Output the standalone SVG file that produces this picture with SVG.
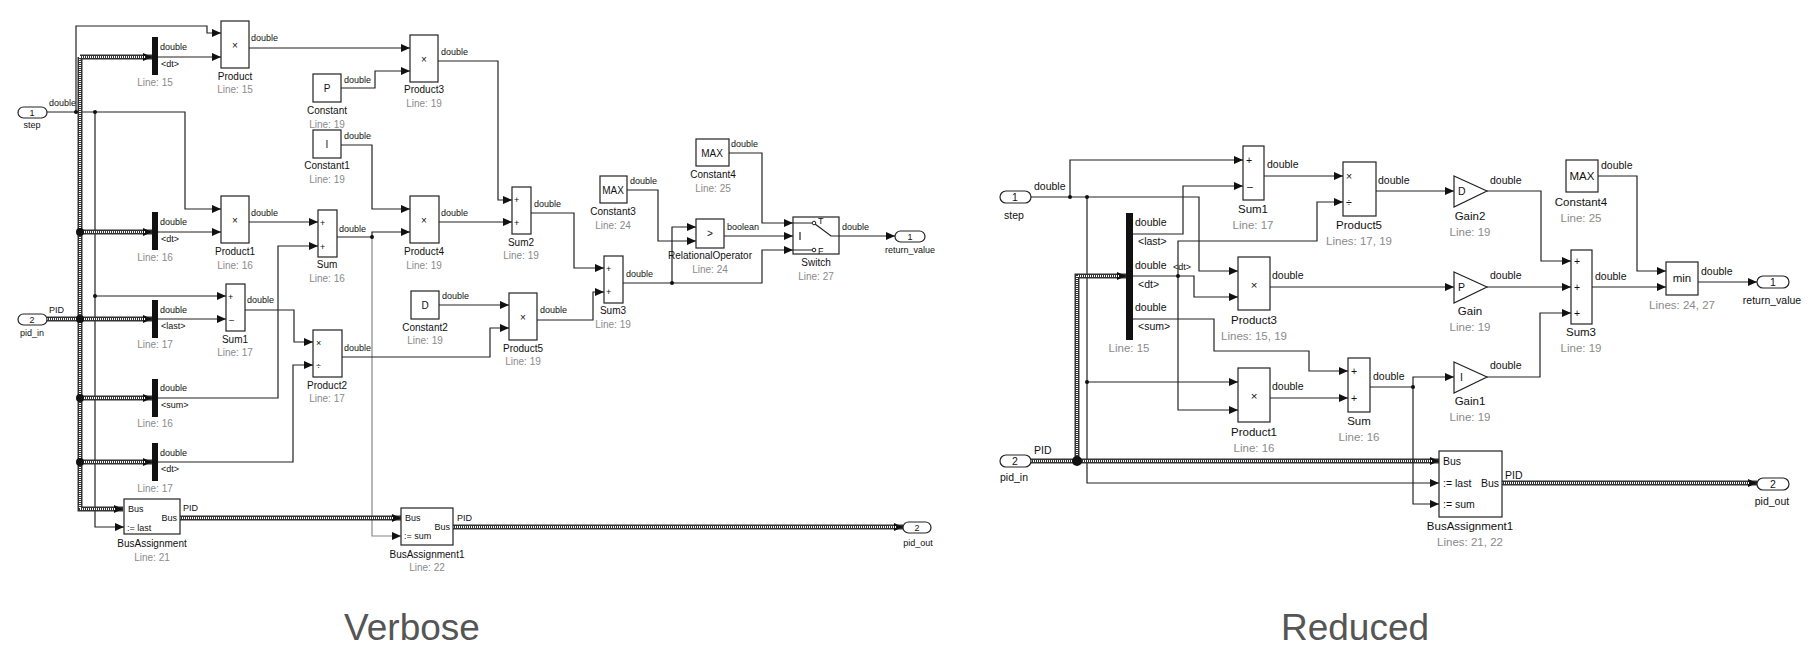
<svg xmlns="http://www.w3.org/2000/svg" width="1818" height="666" viewBox="0 0 1818 666">
<style>
text{font-family:"Liberation Sans",Arial,sans-serif;fill:#111}
.b{fill:#fff;stroke:#222;stroke-width:1.2}
.p{fill:#fff;stroke:#222;stroke-width:1.2}
.sel{fill:#111}
.n{font-size:10px;text-anchor:middle}
.l{font-size:10px;text-anchor:middle;fill:#8a8a8a}
.s{font-size:9px}
.s2{font-size:10.5px}
.n2{font-size:11.5px;text-anchor:middle}
.l2{font-size:11.5px;text-anchor:middle;fill:#8a8a8a}
.c{text-anchor:middle}
.w{fill:none;stroke:#222;stroke-width:1.2}
.g{fill:none;stroke:#888;stroke-width:1.2}
.bus{fill:none;stroke:#333;stroke-width:5}
.busi{fill:none;stroke:#fff;stroke-width:2;stroke-dasharray:1 1}
.t{font-size:37px;fill:#555;text-anchor:middle}
</style>
<defs>
<marker id="a" markerUnits="userSpaceOnUse" markerWidth="9" markerHeight="8" refX="9" refY="4" orient="auto"><path d="M0,0 L9,4 L0,8 Z" fill="#111"/></marker>
</defs>

<g id="connectors">
<!-- verbose -->
<path class="w" d="M47,112 H185 V209 H221" marker-end="url(#a)"/>
<path class="w" d="M76,112 V26 H207 V33 H221" marker-end="url(#a)"/>
<path class="w" d="M95,112 V527 H124" marker-end="url(#a)"/>
<path class="w" d="M95,296 H226" marker-end="url(#a)"/>
<path class="bus" d="M47,319 H80"/><path class="busi" d="M47,319 H80"/>
<path class="bus" d="M80,57 V509 H123" marker-end="url(#a)"/><path class="busi" d="M80,57 V509 H116"/>
<path class="bus" d="M80,57 H152" marker-end="url(#a)"/><path class="busi" d="M80,57 H145"/>
<path class="bus" d="M80,232 H152" marker-end="url(#a)"/><path class="busi" d="M80,232 H145"/>
<path class="bus" d="M80,319 H152" marker-end="url(#a)"/><path class="busi" d="M80,319 H145"/>
<path class="bus" d="M80,398 H152" marker-end="url(#a)"/><path class="busi" d="M80,398 H145"/>
<path class="bus" d="M80,462 H152" marker-end="url(#a)"/><path class="busi" d="M80,462 H145"/>
<path class="w" d="M158,57 H221" marker-end="url(#a)"/>
<path class="w" d="M158,232 H221" marker-end="url(#a)"/>
<path class="w" d="M158,319 H226" marker-end="url(#a)"/>
<path class="w" d="M158,398 H278 V246 H318" marker-end="url(#a)"/>
<path class="w" d="M158,462 H293 V365 H313" marker-end="url(#a)"/>
<path class="w" d="M249,48 H410" marker-end="url(#a)"/>
<path class="w" d="M341,88 H375 V71 H410" marker-end="url(#a)"/>
<path class="w" d="M341,145 H372 V209 H410" marker-end="url(#a)"/>
<path class="w" d="M249,222 H318" marker-end="url(#a)"/>
<path class="w" d="M337,237 H372 V232 H410" marker-end="url(#a)"/>
<path class="g" d="M372,237 V536 H401" marker-end="url(#a)"/>
<path class="w" d="M245,310 H294 V342 H313" marker-end="url(#a)"/>
<path class="w" d="M342,357 H490 V328 H509" marker-end="url(#a)"/>
<path class="w" d="M439,305 H509" marker-end="url(#a)"/>
<path class="w" d="M438,61 H498 V200 H512" marker-end="url(#a)"/>
<path class="w" d="M439,222 H512" marker-end="url(#a)"/>
<path class="w" d="M531,213 H574 V268 H604" marker-end="url(#a)"/>
<path class="w" d="M537,320 H593 V292 H604" marker-end="url(#a)"/>
<path class="w" d="M623,283 H762 V250 H793" marker-end="url(#a)"/>
<path class="w" d="M672,283 V227 H696" marker-end="url(#a)"/>
<path class="w" d="M627,190 H658 V241 H696" marker-end="url(#a)"/>
<path class="w" d="M724,236 H793" marker-end="url(#a)"/>
<path class="w" d="M729,153 H762 V223 H793" marker-end="url(#a)"/>
<path class="w" d="M839,236 H895" marker-end="url(#a)"/>
<path class="bus" d="M180,518 H401" marker-end="url(#a)"/><path class="busi" d="M180,518 H394"/>
<path class="bus" d="M453,527 H903" marker-end="url(#a)"/><path class="busi" d="M453,527 H896"/>
<g fill="#111"><circle cx="76" cy="112" r="2"/><circle cx="95" cy="112" r="2"/><circle cx="95" cy="296" r="2"/><circle cx="372" cy="237" r="2"/><circle cx="672" cy="283" r="2"/>
<circle cx="80" cy="232" r="4"/><circle cx="80" cy="319" r="4"/><circle cx="80" cy="398" r="4"/><circle cx="80" cy="462" r="4"/></g>

<!-- reduced -->
<path class="w" d="M1031,197 H1199 V271 H1238" marker-end="url(#a)"/>
<path class="w" d="M1070,197 V160 H1243" marker-end="url(#a)"/>
<path class="w" d="M1087,197 V483 H1439" marker-end="url(#a)"/>
<path class="w" d="M1087,382 H1238" marker-end="url(#a)"/>
<path class="bus" d="M1031,461 H1439" marker-end="url(#a)"/><path class="busi" d="M1031,461 H1432"/>
<path class="bus" d="M1077,461 V276 H1126" marker-end="url(#a)"/><path class="busi" d="M1077,461 V276 H1119"/>
<path class="w" d="M1132,234 H1183 V186 H1243" marker-end="url(#a)"/>
<path class="w" d="M1132,276 H1194 V297 H1238" marker-end="url(#a)"/>
<path class="w" d="M1178,276 V241 H1317 V202 H1343" marker-end="url(#a)"/>
<path class="w" d="M1178,276 V410 H1238" marker-end="url(#a)"/>
<path class="w" d="M1132,319 H1214 V351 H1309 V371 H1348" marker-end="url(#a)"/>
<path class="w" d="M1264,176 H1343" marker-end="url(#a)"/>
<path class="w" d="M1376,191 H1454" marker-end="url(#a)"/>
<path class="w" d="M1270,287 H1454" marker-end="url(#a)"/>
<path class="w" d="M1270,398 H1348" marker-end="url(#a)"/>
<path class="w" d="M1370,387 H1413 V377 H1454" marker-end="url(#a)"/>
<path class="w" d="M1413,387 V504 H1439" marker-end="url(#a)"/>
<path class="w" d="M1487,191 H1541 V261 H1571" marker-end="url(#a)"/>
<path class="w" d="M1487,287 H1571" marker-end="url(#a)"/>
<path class="w" d="M1487,377 H1540 V313 H1571" marker-end="url(#a)"/>
<path class="w" d="M1592,287 H1666" marker-end="url(#a)"/>
<path class="w" d="M1598,176 H1637 V271 H1666" marker-end="url(#a)"/>
<path class="w" d="M1698,282 H1757" marker-end="url(#a)"/>
<path class="bus" d="M1502,483 H1757" marker-end="url(#a)"/><path class="busi" d="M1502,483 H1750"/>
<g fill="#111"><circle cx="1070" cy="197" r="2"/><circle cx="1087" cy="197" r="2"/><circle cx="1087" cy="382" r="2"/><circle cx="1178" cy="276" r="2"/><circle cx="1413" cy="387" r="2"/><circle cx="1077" cy="461" r="5"/></g>
</g>

<!-- connector labels verbose -->
<g id="vlabels" class="s">
<text x="49" y="106">double</text><text x="49" y="313">PID</text>
<text x="160" y="50">double</text><text x="161" y="67">&lt;dt&gt;</text>
<text x="160" y="225">double</text><text x="161" y="242">&lt;dt&gt;</text>
<text x="160" y="313">double</text><text x="161" y="329">&lt;last&gt;</text>
<text x="160" y="391">double</text><text x="161" y="408">&lt;sum&gt;</text>
<text x="160" y="456">double</text><text x="161" y="472">&lt;dt&gt;</text>
<text x="251" y="41">double</text><text x="441" y="55">double</text><text x="344" y="83">double</text><text x="344" y="139">double</text>
<text x="251" y="216">double</text><text x="339" y="232">double</text><text x="247" y="303">double</text><text x="344" y="351">double</text>
<text x="441" y="216">double</text><text x="442" y="299">double</text><text x="540" y="313">double</text><text x="534" y="207">double</text>
<text x="626" y="277">double</text><text x="630" y="184">double</text><text x="727" y="230">boolean</text><text x="731" y="147">double</text>
<text x="842" y="230">double</text><text x="183" y="511">PID</text><text x="457" y="521">PID</text>
</g>
<g id="rlabels" class="s2">
<text x="1034" y="190">double</text><text x="1034" y="454">PID</text>
<text x="1135" y="226">double</text><text x="1138" y="245">&lt;last&gt;</text>
<text x="1135" y="269">double</text><text x="1138" y="288">&lt;dt&gt;</text><text x="1173" y="270" font-size="9">&lt;dt&gt;</text>
<text x="1135" y="311">double</text><text x="1138" y="330">&lt;sum&gt;</text>
<text x="1267" y="168">double</text><text x="1378" y="184">double</text><text x="1272" y="279">double</text><text x="1272" y="390">double</text>
<text x="1373" y="380">double</text><text x="1490" y="184">double</text><text x="1490" y="279">double</text><text x="1490" y="369">double</text>
<text x="1595" y="280">double</text><text x="1601" y="169">double</text><text x="1701" y="275">double</text><text x="1505" y="479">PID</text>
</g>

<!-- verbose nodes -->
<g id="v_step"><rect class="p" x="18" y="107" width="29" height="11" rx="5.5"/><text class="s c" x="32" y="116">1</text><text class="s c" x="32" y="128">step</text></g>
<g id="v_pid_in"><rect class="p" x="18" y="314" width="29" height="11" rx="5.5"/><text class="s c" x="32" y="323">2</text><text class="s c" x="32" y="336">pid_in</text></g>
<g id="v_sel1"><rect class="sel" x="152" y="37" width="6" height="38"/><text class="l" x="155" y="86" font-size="9">Line: 15</text></g>
<g id="v_sel2"><rect class="sel" x="152" y="212" width="6" height="38"/><text class="l" x="155" y="261" font-size="9">Line: 16</text></g>
<g id="v_sel3"><rect class="sel" x="152" y="300" width="6" height="38"/><text class="l" x="155" y="348" font-size="9">Line: 17</text></g>
<g id="v_sel4"><rect class="sel" x="152" y="379" width="6" height="38"/><text class="l" x="155" y="427" font-size="9">Line: 16</text></g>
<g id="v_sel5"><rect class="sel" x="152" y="443" width="6" height="38"/><text class="l" x="155" y="492" font-size="9">Line: 17</text></g>
<g id="v_product"><rect class="b" x="221" y="21" width="28" height="47"/><text class="n" x="235" y="49">×</text><text class="n" x="235" y="80" font-size="9">Product</text><text class="l" x="235" y="93" font-size="9">Line: 15</text></g>
<g id="v_product3"><rect class="b" x="410" y="35" width="28" height="47"/><text class="n" x="424" y="63">×</text><text class="n" x="424" y="93" font-size="9">Product3</text><text class="l" x="424" y="107" font-size="9">Line: 19</text></g>
<g id="v_constant"><rect class="b" x="313" y="74" width="28" height="28"/><text class="n" x="327" y="92">P</text><text class="n" x="327" y="114" font-size="9">Constant</text><text class="l" x="327" y="128" font-size="9">Line: 19</text></g>
<g id="v_constant1"><rect class="b" x="313" y="130" width="28" height="28"/><text class="n" x="327" y="148">I</text><text class="n" x="327" y="169" font-size="9">Constant1</text><text class="l" x="327" y="183" font-size="9">Line: 19</text></g>
<g id="v_product1"><rect class="b" x="221" y="196" width="28" height="47"/><text class="n" x="235" y="224">×</text><text class="n" x="235" y="255" font-size="9">Product1</text><text class="l" x="235" y="269" font-size="9">Line: 16</text></g>
<g id="v_sum"><rect class="b" x="318" y="210" width="19" height="47"/><text class="s" x="320" y="226">+</text><text class="s" x="320" y="250">+</text><text class="n" x="327" y="268" font-size="9">Sum</text><text class="l" x="327" y="282" font-size="9">Line: 16</text></g>
<g id="v_product4"><rect class="b" x="410" y="196" width="29" height="47"/><text class="n" x="424" y="224">×</text><text class="n" x="424" y="255" font-size="9">Product4</text><text class="l" x="424" y="269" font-size="9">Line: 19</text></g>
<g id="v_sum1"><rect class="b" x="226" y="284" width="19" height="47"/><text class="s" x="228" y="300">+</text><text class="s" x="229" y="323">–</text><text class="n" x="235" y="343" font-size="9">Sum1</text><text class="l" x="235" y="356" font-size="9">Line: 17</text></g>
<g id="v_product2"><rect class="b" x="313" y="330" width="29" height="47"/><text class="s" x="316" y="346">×</text><text class="s" x="316" y="369">÷</text><text class="n" x="327" y="389" font-size="9">Product2</text><text class="l" x="327" y="402" font-size="9">Line: 17</text></g>
<g id="v_constant2"><rect class="b" x="411" y="291" width="28" height="28"/><text class="n" x="425" y="309">D</text><text class="n" x="425" y="331" font-size="9">Constant2</text><text class="l" x="425" y="344" font-size="9">Line: 19</text></g>
<g id="v_product5"><rect class="b" x="509" y="293" width="28" height="47"/><text class="n" x="523" y="321">×</text><text class="n" x="523" y="352" font-size="9">Product5</text><text class="l" x="523" y="365" font-size="9">Line: 19</text></g>
<g id="v_sum2"><rect class="b" x="512" y="187" width="19" height="47"/><text class="s" x="514" y="203">+</text><text class="s" x="514" y="226">+</text><text class="n" x="521" y="246" font-size="9">Sum2</text><text class="l" x="521" y="259" font-size="9">Line: 19</text></g>
<g id="v_sum3"><rect class="b" x="604" y="256" width="19" height="47"/><text class="s" x="606" y="272">+</text><text class="s" x="606" y="295">+</text><text class="n" x="613" y="314" font-size="9">Sum3</text><text class="l" x="613" y="328" font-size="9">Line: 19</text></g>
<g id="v_constant3"><rect class="b" x="600" y="176" width="27" height="27"/><text class="n" x="613" y="194" font-size="9">MAX</text><text class="n" x="613" y="215" font-size="9">Constant3</text><text class="l" x="613" y="229" font-size="9">Line: 24</text></g>
<g id="v_relop"><rect class="b" x="696" y="219" width="28" height="29"/><text class="n" x="710" y="237" font-size="9">&gt;</text><text class="n" x="710" y="259" font-size="9">RelationalOperator</text><text class="l" x="710" y="273" font-size="9">Line: 24</text></g>
<g id="v_constant4"><rect class="b" x="696" y="139" width="33" height="27"/><text class="n" x="712" y="157" font-size="9">MAX</text><text class="n" x="713" y="178" font-size="9">Constant4</text><text class="l" x="713" y="192" font-size="9">Line: 25</text></g>
<g id="v_switch"><rect class="b" x="793" y="217" width="46" height="37"/>
<path class="w" d="M793,223 H812 M793,250 H812 M800,232 V240 M815,224 L831,236 H839"/><circle cx="814" cy="223" r="1.8" fill="#fff" stroke="#222"/><circle cx="814" cy="250" r="1.8" fill="#fff" stroke="#222"/>
<text class="s" x="818" y="224">T</text><text class="s" x="818" y="254">F</text>
<text class="n" x="816" y="266" font-size="9">Switch</text><text class="l" x="816" y="280" font-size="9">Line: 27</text></g>
<g id="v_return_value"><rect class="p" x="895" y="231" width="30" height="11" rx="5.5"/><text class="s c" x="910" y="240">1</text><text class="s c" x="910" y="253">return_value</text></g>
<g id="v_busassign"><rect class="b" x="124" y="499" width="56" height="35"/><text class="s" x="128" y="512">Bus</text><text class="s" x="177" y="521" text-anchor="end">Bus</text><text class="s" x="127" y="531">:= last</text><text class="n" x="152" y="547" font-size="9">BusAssignment</text><text class="l" x="152" y="561" font-size="9">Line: 21</text></g>
<g id="v_busassign1"><rect class="b" x="401" y="508" width="52" height="37"/><text class="s" x="405" y="521">Bus</text><text class="s" x="450" y="530" text-anchor="end">Bus</text><text class="s" x="404" y="539">:= sum</text><text class="n" x="427" y="558" font-size="9">BusAssignment1</text><text class="l" x="427" y="571" font-size="9">Line: 22</text></g>
<g id="v_pid_out"><rect class="p" x="903" y="522" width="28" height="11" rx="5.5"/><text class="s c" x="917" y="531">2</text><text class="s c" x="918" y="546">pid_out</text></g>

<!-- reduced nodes -->
<g id="r_step"><rect class="p" x="1000" y="191" width="31" height="12" rx="6"/><text class="s2 c" x="1015" y="201">1</text><text class="s2 c" x="1014" y="219">step</text></g>
<g id="r_pid_in"><rect class="p" x="1000" y="455" width="31" height="12" rx="6"/><text class="s2 c" x="1015" y="465">2</text><text class="s2 c" x="1014" y="481">pid_in</text></g>
<g id="r_selector"><rect class="sel" x="1126" y="213" width="7" height="127"/><text class="l2" x="1129" y="352">Line: 15</text></g>
<g id="r_sum1"><rect class="b" x="1243" y="146" width="21" height="54"/><text class="s2" x="1246" y="164">+</text><text class="s2" x="1247" y="190">–</text><text class="n2" x="1253" y="213">Sum1</text><text class="l2" x="1253" y="229">Line: 17</text></g>
<g id="r_product5"><rect class="b" x="1343" y="162" width="33" height="54"/><text class="s2" x="1346" y="180">×</text><text class="s2" x="1346" y="206">÷</text><text class="n2" x="1359" y="229">Product5</text><text class="l2" x="1359" y="245">Lines: 17, 19</text></g>
<g id="r_product3"><rect class="b" x="1238" y="257" width="32" height="53"/><text class="n2" x="1254" y="289">×</text><text class="n2" x="1254" y="324">Product3</text><text class="l2" x="1254" y="340">Lines: 15, 19</text></g>
<g id="r_product1"><rect class="b" x="1238" y="368" width="32" height="54"/><text class="n2" x="1254" y="400">×</text><text class="n2" x="1254" y="436">Product1</text><text class="l2" x="1254" y="452">Line: 16</text></g>
<g id="r_sum"><rect class="b" x="1348" y="358" width="22" height="54"/><text class="s2" x="1351" y="375">+</text><text class="s2" x="1351" y="402">+</text><text class="n2" x="1359" y="425">Sum</text><text class="l2" x="1359" y="441">Line: 16</text></g>
<g id="r_gain2"><path class="b" d="M1454,176 L1487,191 L1454,207 Z"/><text class="s2" x="1458" y="195">D</text><text class="n2" x="1470" y="220">Gain2</text><text class="l2" x="1470" y="236">Line: 19</text></g>
<g id="r_gain"><path class="b" d="M1454,272 L1487,287 L1454,303 Z"/><text class="s2" x="1458" y="291">P</text><text class="n2" x="1470" y="315">Gain</text><text class="l2" x="1470" y="331">Line: 19</text></g>
<g id="r_gain1"><path class="b" d="M1454,362 L1487,377 L1454,393 Z"/><text class="s2" x="1460" y="381">I</text><text class="n2" x="1470" y="405">Gain1</text><text class="l2" x="1470" y="421">Line: 19</text></g>
<g id="r_sum3"><rect class="b" x="1571" y="250" width="21" height="74"/><text class="s2" x="1574" y="265">+</text><text class="s2" x="1574" y="291">+</text><text class="s2" x="1574" y="317">+</text><text class="n2" x="1581" y="336">Sum3</text><text class="l2" x="1581" y="352">Line: 19</text></g>
<g id="r_constant4"><rect class="b" x="1566" y="160" width="32" height="32"/><text class="n2" x="1582" y="180">MAX</text><text class="n2" x="1581" y="206">Constant4</text><text class="l2" x="1581" y="222">Line: 25</text></g>
<g id="r_min"><rect class="b" x="1666" y="262" width="32" height="33"/><text class="n2" x="1682" y="282">min</text><text class="l2" x="1682" y="309">Lines: 24, 27</text></g>
<g id="r_return_value"><rect class="p" x="1757" y="276" width="32" height="12" rx="6"/><text class="s2 c" x="1773" y="286">1</text><text class="s2 c" x="1772" y="304">return_value</text></g>
<g id="r_busassign1"><rect class="b" x="1439" y="451" width="63" height="66"/><text class="s2" x="1443" y="465">Bus</text><text class="s2" x="1443" y="487">:= last</text><text class="s2" x="1443" y="508">:= sum</text><text class="s2" x="1499" y="487" text-anchor="end">Bus</text><text class="n2" x="1470" y="530">BusAssignment1</text><text class="l2" x="1470" y="546">Lines: 21, 22</text></g>
<g id="r_pid_out"><rect class="p" x="1757" y="478" width="32" height="12" rx="6"/><text class="s2 c" x="1773" y="488">2</text><text class="s2 c" x="1772" y="505">pid_out</text></g>

<text class="t" x="412" y="640">Verbose</text>
<text class="t" x="1355" y="640">Reduced</text>
</svg>
